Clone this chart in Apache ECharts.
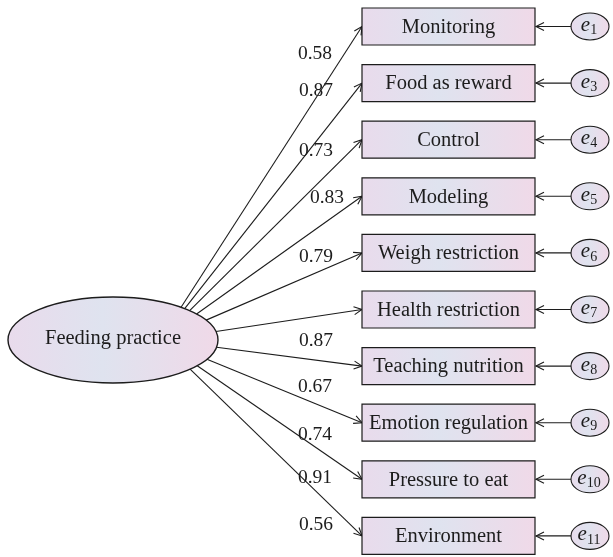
<!DOCTYPE html>
<html>
<head>
<meta charset="utf-8">
<script src="https://cdn.jsdelivr.net/npm/echarts@6/dist/echarts.min.js"></script>
<style>
  html, body { margin: 0; padding: 0; background: #fff; }
  #main { width: 613px; height: 557px; }
</style>
</head>
<body>
<div id="main"></div>
<script>
// --- data ---
const latentName = 'Feeding practice';
const indicators = [
  'Monitoring', 'Food as reward', 'Control', 'Modeling', 'Weigh restriction',
  'Health restriction', 'Teaching nutrition', 'Emotion regulation', 'Pressure to eat', 'Environment'
];
const loadings = [0.58, 0.87, 0.73, 0.83, 0.79, 0.87, 0.67, 0.74, 0.91, 0.56];
const errorIds = ['1', '3', '4', '5', '6', '7', '8', '9', '10', '11'];

// --- layout (px, the axes below are in pixel units) ---
const ROW0 = 26.5, ROW_STEP = 56.6;
const BOX = { x0: 362, x1: 535, h: 37 };
const ERR = { cx: 590, rx: 19, ry: 13.5 };
const LAT = { cx: 113, cy: 340, rx: 105, ry: 43, fx: 160 };
// where the loading numbers sit (they are not always next to their own arrow)
const labelX = [315, 316, 316, 327, 316, 316, 315, 315, 315, 316];
const labelY = [54, 91, 151, 198, 257, 341, 387, 435, 478, 525];

const FONT = '"Liberation Serif", "DejaVu Serif", serif';
const INK = '#1c1c1c';

function rowY(i) { return ROW0 + i * ROW_STEP; }

function fill() {
  return new echarts.graphic.LinearGradient(0, 0, 1, 0, [
    { offset: 0, color: '#e9dbec' },
    { offset: 0.45, color: '#dfe3ef' },
    { offset: 1, color: '#f0d9e8' }
  ]);
}

// line with an open arrow head at "to"
function arrow(api, from, to) {
  const a = api.coord(from), b = api.coord(to);
  const dx = b[0] - a[0], dy = b[1] - a[1];
  const len = Math.hypot(dx, dy), ux = dx / len, uy = dy / len;
  const L = 8, W = 4;
  return [
    { type: 'line', shape: { x1: a[0], y1: a[1], x2: b[0], y2: b[1] },
      style: { stroke: INK, lineWidth: 1.1 } },
    { type: 'polyline',
      shape: { points: [
        [b[0] - L * ux - W * uy, b[1] - L * uy + W * ux],
        [b[0], b[1]],
        [b[0] - L * ux + W * uy, b[1] - L * uy - W * ux]
      ] },
      style: { stroke: INK, lineWidth: 1.1, fill: 'none' } }
  ];
}

// ray from a focus inside the latent ellipse toward the box, cut at the ellipse edge
function startOnLatent(ty) {
  const dx = BOX.x0 - LAT.fx, dy = ty - LAT.cy;
  const ox = (LAT.fx - LAT.cx) / LAT.rx, a = dx / LAT.rx, b = dy / LAT.ry;
  const A = a * a + b * b, B = 2 * ox * a, C = ox * ox - 1;
  const t = (-B + Math.sqrt(B * B - 4 * A * C)) / (2 * A);
  return [LAT.fx + dx * t, LAT.cy + dy * t];
}

const myChart = echarts.init(document.getElementById('main'));

const option = {
  animation: false,
  grid: { left: 0, right: 0, top: 0, bottom: 0 },
  xAxis: { type: 'value', min: 0, max: 613, show: false },
  yAxis: { type: 'value', min: 0, max: 557, inverse: true, show: false },
  series: [
    {
      type: 'custom',
      clip: false,
      data: indicators.map((name, i) => [i, loadings[i]]),
      renderItem: function (params, api) {
        const i = api.value(0);
        const y = rowY(i);
        const p0 = api.coord([BOX.x0, y - BOX.h / 2]);
        const p1 = api.coord([BOX.x1, y + BOX.h / 2]);
        const mid = api.coord([(BOX.x0 + BOX.x1) / 2, y]);
        const ec = api.coord([ERR.cx, y]);
        const lab = api.coord([labelX[i], labelY[i]]);
        const children = [];
        // loading arrow
        arrow(api, startOnLatent(y), [BOX.x0, y]).forEach(c => children.push(c));
        // error arrow
        arrow(api, [ERR.cx - ERR.rx, y], [BOX.x1 + 1, y]).forEach(c => children.push(c));
        children.push({
          type: 'rect',
          shape: { x: p0[0], y: p0[1], width: p1[0] - p0[0], height: p1[1] - p0[1] },
          style: { fill: fill(), stroke: INK, lineWidth: 1.2 }
        });
        children.push({
          type: 'text', x: mid[0], y: mid[1] + 1,
          style: { text: indicators[i], font: '20.5px ' + FONT, fill: INK,
                   align: 'center', verticalAlign: 'middle' }
        });
        children.push({
          type: 'ellipse',
          shape: { cx: ec[0], cy: ec[1], rx: ERR.rx, ry: ERR.ry },
          style: { fill: fill(), stroke: INK, lineWidth: 1.1 }
        });
        children.push({
          type: 'text', x: ec[0] - 1, y: ec[1] - 1,
          style: {
            text: '{e|e}{s|' + errorIds[i] + '}',
            align: 'center', verticalAlign: 'middle',
            rich: {
              e: { font: 'italic 21px ' + FONT, fill: INK, lineHeight: 24, verticalAlign: 'middle' },
              s: { font: '14px ' + FONT, fill: INK, lineHeight: 14, verticalAlign: 'bottom' }
            }
          }
        });
        children.push({
          type: 'text', x: lab[0], y: lab[1],
          style: { text: api.value(1).toFixed(2), font: '19.5px ' + FONT, fill: INK,
                   align: 'center', verticalAlign: 'middle' }
        });
        return { type: 'group', children: children };
      }
    },
    {
      type: 'custom',
      clip: false,
      data: [[LAT.cx, LAT.cy]],
      renderItem: function (params, api) {
        const c = api.coord([api.value(0), api.value(1)]);
        return {
          type: 'group',
          children: [
            { type: 'ellipse', shape: { cx: c[0], cy: c[1], rx: LAT.rx, ry: LAT.ry },
              style: { fill: fill(), stroke: INK, lineWidth: 1.4 } },
            { type: 'text', x: c[0], y: c[1] - 1,
              style: { text: latentName, font: '20.5px ' + FONT, fill: INK,
                       align: 'center', verticalAlign: 'middle' } }
          ]
        };
      }
    }
  ]
};

myChart.setOption(option);
</script>
</body>
</html>
